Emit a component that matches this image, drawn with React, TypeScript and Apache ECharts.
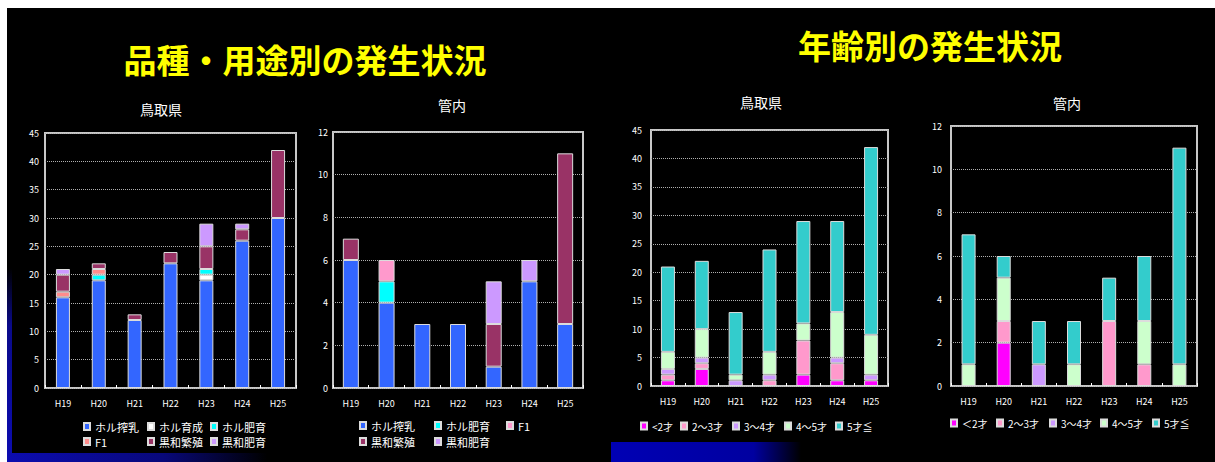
import React, { useEffect, useRef } from "react";
import * as echarts from "echarts";

// ---------- data ----------
const years = ["H19", "H20", "H21", "H22", "H23", "H24", "H25"];

const mainTitleBreed = "品種・用途別の発生状況";
const mainTitleAge = "年齢別の発生状況";
const subPref = "鳥取県";
const subLocal = "管内";

// 鳥取県 by breed / use
const breedNames = ["ホル搾乳", "ホル育成", "ホル肥育", "F1", "黒和繁殖", "黒和肥育"];
const prefHolDairy = [16, 19, 12, 22, 19, 26, 30];
const prefHolRear = [0, 0, 0, 0, 1, 0, 0];
const prefHolFat = [0, 1, 0, 0, 1, 0, 0];
const prefF1 = [1, 1, 0, 0, 0, 0, 0];
const prefWagyuBreed = [3, 1, 1, 2, 4, 2, 12];
const prefWagyuFat = [1, 0, 0, 0, 4, 1, 0];

// 管内 by breed / use
const localBreedNames = ["ホル搾乳", "ホル肥育", "F1", "黒和繁殖", "黒和肥育"];
const localHolDairy = [6, 4, 3, 3, 1, 5, 3];
const localHolFat = [0, 1, 0, 0, 0, 0, 0];
const localF1 = [0, 1, 0, 0, 0, 0, 0];
const localWagyuBreed = [1, 0, 0, 0, 2, 0, 8];
const localWagyuFat = [0, 0, 0, 0, 2, 1, 0];

// 鳥取県 by age
const prefAgeNames = ["<2才", "2〜3才", "3〜4才", "4〜5才", "5才≦"];
const prefAgeU2 = [1, 3, 0, 0, 2, 1, 1];
const prefAge2to3 = [1, 1, 0, 1, 6, 3, 0];
const prefAge3to4 = [1, 1, 1, 1, 0, 1, 1];
const prefAge4to5 = [3, 5, 1, 4, 3, 8, 7];
const prefAge5up = [15, 12, 11, 18, 18, 16, 33];

// 管内 by age
const localAgeNames = ["＜2才", "2〜3才", "3〜4才", "4〜5才", "5才≦"];
const localAgeU2 = [0, 2, 0, 0, 0, 0, 0];
const localAge2to3 = [0, 1, 0, 0, 3, 1, 0];
const localAge3to4 = [0, 0, 1, 0, 0, 0, 0];
const localAge4to5 = [1, 2, 0, 1, 0, 2, 1];
const localAge5up = [6, 1, 2, 2, 2, 3, 10];

// ---------- styles ----------
const FONT = "'Noto Sans CJK JP', 'Noto Sans', sans-serif";
const C_BLUE = "#3366ff";
const C_WHITE = "#ffffff";
const C_CYAN = "#00ffff";
const C_F1A = "#ff8c8c";
const C_F1B = "#ff99cc";
const C_MAROON = "#993366";
const C_LAV = "#cc99ff";
const C_MAG = "#ff00ff";
const C_PINK = "#ff99cc";
const C_LGREEN = "#ccffcc";
const C_TEAL = "#33cccc";

const grids = [
  { left: 45, top: 133, width: 251, height: 255, max: 45, interval: 5, labelMargin: 6, barWidth: 14 },
  { left: 333, top: 132, width: 250, height: 256, max: 12, interval: 2, labelMargin: 5, barWidth: 16 },
  { left: 651, top: 130, width: 237, height: 256, max: 45, interval: 5, labelMargin: 9, barWidth: 14 },
  { left: 951, top: 126, width: 246, height: 260, max: 12, interval: 2, labelMargin: 9, barWidth: 14 },
];

function barSeries(name: string, data: number[], color: string, g: number) {
  return {
    type: "bar",
    name,
    data: data.map((v) => (v === 0 ? null : v)),
    xAxisIndex: g,
    yAxisIndex: g,
    stack: "s" + g,
    barWidth: grids[g].barWidth,
    itemStyle: { color, borderColor: "#dcdcdc", borderWidth: 1 },
    emphasis: { disabled: true },
  };
}

function legendItem(name: string, color: string, x: number, yc: number, fontSize: number) {
  return {
    data: [{ name, itemStyle: { color } }],
    left: x - 3,
    top: yc - 7,
    padding: 0,
    icon: "rect",
    itemWidth: 6,
    itemHeight: 7,
    itemGap: 0,
    selectedMode: false,
    textStyle: { color: "#ffffff", fontSize, fontFamily: FONT, padding: [0, 0, 0, 0] },
  };
}

export default function App() {
  const ref = useRef<HTMLDivElement>(null);

  useEffect(() => {
    if (!ref.current) return;
    const chart = echarts.init(ref.current, undefined, { renderer: "svg" });

    const series = [
      barSeries(breedNames[0], prefHolDairy, C_BLUE, 0),
      barSeries(breedNames[1], prefHolRear, C_WHITE, 0),
      barSeries(breedNames[2], prefHolFat, C_CYAN, 0),
      barSeries(breedNames[3], prefF1, C_F1A, 0),
      barSeries(breedNames[4], prefWagyuBreed, C_MAROON, 0),
      barSeries(breedNames[5], prefWagyuFat, C_LAV, 0),

      barSeries(localBreedNames[0], localHolDairy, C_BLUE, 1),
      barSeries(localBreedNames[1], localHolFat, C_CYAN, 1),
      barSeries(localBreedNames[2], localF1, C_F1B, 1),
      barSeries(localBreedNames[3], localWagyuBreed, C_MAROON, 1),
      barSeries(localBreedNames[4], localWagyuFat, C_LAV, 1),

      barSeries(prefAgeNames[0], prefAgeU2, C_MAG, 2),
      barSeries(prefAgeNames[1], prefAge2to3, C_PINK, 2),
      barSeries(prefAgeNames[2], prefAge3to4, C_LAV, 2),
      barSeries(prefAgeNames[3], prefAge4to5, C_LGREEN, 2),
      barSeries(prefAgeNames[4], prefAge5up, C_TEAL, 2),

      barSeries(localAgeNames[0], localAgeU2, C_MAG, 3),
      barSeries(localAgeNames[1], localAge2to3, C_PINK, 3),
      barSeries(localAgeNames[2], localAge3to4, C_LAV, 3),
      barSeries(localAgeNames[3], localAge4to5, C_LGREEN, 3),
      barSeries(localAgeNames[4], localAge5up, C_TEAL, 3),
    ];

    const legends = [
      legendItem(breedNames[0], C_BLUE, 86, 428, 11),
      legendItem(breedNames[1], C_WHITE, 150, 428, 11),
      legendItem(breedNames[2], C_CYAN, 213, 428, 11),
      legendItem(breedNames[3], C_F1A, 86, 443, 11),
      legendItem(breedNames[4], C_MAROON, 150, 443, 11),
      legendItem(breedNames[5], C_LAV, 213, 443, 11),

      legendItem(localBreedNames[0], C_BLUE, 362, 427, 11),
      legendItem(localBreedNames[1], C_CYAN, 437, 427, 11),
      legendItem(localBreedNames[2], C_F1B, 509, 427, 11),
      legendItem(localBreedNames[3], C_MAROON, 362, 443, 11),
      legendItem(localBreedNames[4], C_LAV, 437, 443, 11),

      legendItem(prefAgeNames[0], C_MAG, 643, 428, 10),
      legendItem(prefAgeNames[1], C_PINK, 683, 428, 10),
      legendItem(prefAgeNames[2], C_LAV, 735, 428, 10),
      legendItem(prefAgeNames[3], C_LGREEN, 787, 428, 10),
      legendItem(prefAgeNames[4], C_TEAL, 838, 428, 10),

      legendItem(localAgeNames[0], C_MAG, 953, 425, 10),
      legendItem(localAgeNames[1], C_PINK, 999, 425, 10),
      legendItem(localAgeNames[2], C_LAV, 1052, 425, 10),
      legendItem(localAgeNames[3], C_LGREEN, 1103, 425, 10),
      legendItem(localAgeNames[4], C_TEAL, 1155, 425, 10),
    ];

    const subTitle = (text: string, x: number, y: number) => ({
      type: "text",
      x,
      y,
      z: 20,
      style: {
        text,
        fill: "#ffffff",
        fontSize: 14,
        fontFamily: FONT,
        align: "center",
        verticalAlign: "middle",
        shadowColor: "#2a3cd0",
        shadowBlur: 4,
      },
    });

    const mainTitle = (text: string, x: number, y: number) => ({
      type: "text",
      x,
      y,
      z: 20,
      style: {
        text,
        fill: "#ffff00",
        fontSize: 33,
        fontWeight: "bold",
        fontFamily: FONT,
        align: "center",
        verticalAlign: "middle",
        shadowColor: "#5a5a00",
        shadowBlur: 2,
      },
    });

    chart.setOption({
      animation: false,
      backgroundColor: "#000000",
      textStyle: { fontFamily: FONT },
      grid: grids.map((g) => ({
        left: g.left,
        top: g.top,
        width: g.width,
        height: g.height,
        show: true,
        borderColor: "#c8c8c8",
        borderWidth: 2,
        containLabel: false,
      })),
      xAxis: grids.map((g, i) => ({
        type: "category",
        gridIndex: i,
        data: years,
        axisLine: { show: false },
        axisTick: { show: true, inside: true, length: 3, lineStyle: { color: "#ffffff" } },
        axisLabel: { color: "#ffffff", fontSize: 9, margin: 11, fontFamily: FONT },
        splitLine: { show: false },
      })),
      yAxis: grids.map((g, i) => ({
        type: "value",
        gridIndex: i,
        min: 0,
        max: g.max,
        interval: g.interval,
        axisLine: { show: false },
        axisTick: { show: false },
        axisLabel: { color: "#ffffff", fontSize: 9, margin: g.labelMargin, fontFamily: FONT },
        splitLine: { show: true, lineStyle: { type: "dotted", color: "#b0b0b0", width: 1 } },
      })),
      legend: legends,
      series,
      graphic: [
        { type: "rect", z: -10, shape: { x: 0, y: 0, width: 1215, height: 8 }, style: { fill: "#ffffff" } },
        { type: "rect", z: -10, shape: { x: 0, y: 0, width: 7, height: 462 }, style: { fill: "#ffffff" } },
        {
          type: "rect",
          z: -9,
          shape: { x: 7, y: 268, width: 5, height: 194 },
          style: {
            fill: new echarts.graphic.LinearGradient(0, 0, 0, 1, [
              { offset: 0, color: "#000000" },
              { offset: 0.3, color: "#0a0a8a" },
              { offset: 1, color: "#0c0cb0" },
            ]),
          },
        },
        {
          type: "rect",
          z: -9,
          shape: { x: 7, y: 453, width: 260, height: 9 },
          style: {
            fill: new echarts.graphic.LinearGradient(0, 0, 1, 0, [
              { offset: 0, color: "#0c0cb0" },
              { offset: 0.6, color: "#08087a" },
              { offset: 1, color: "#000000" },
            ]),
          },
        },
        {
          type: "rect",
          z: -9,
          shape: { x: 611, y: 442, width: 190, height: 20 },
          style: {
            fill: new echarts.graphic.LinearGradient(0, 0, 1, 0, [
              { offset: 0, color: "#0000b4" },
              { offset: 0.75, color: "#0000a0" },
              { offset: 1, color: "#000000" },
            ]),
          },
        },
        mainTitle(mainTitleBreed, 305, 59),
        mainTitle(mainTitleAge, 930, 45),
        subTitle(subPref, 161, 109),
        subTitle(subLocal, 452, 105),
        subTitle(subPref, 761, 102),
        subTitle(subLocal, 1067, 103),
      ],
    });

    return () => {
      chart.dispose();
    };
  }, []);

  return (
    <div
      ref={ref}
      style={{ position: "fixed", left: 0, top: 0, width: 1215, height: 462 }}
    />
  );
}
